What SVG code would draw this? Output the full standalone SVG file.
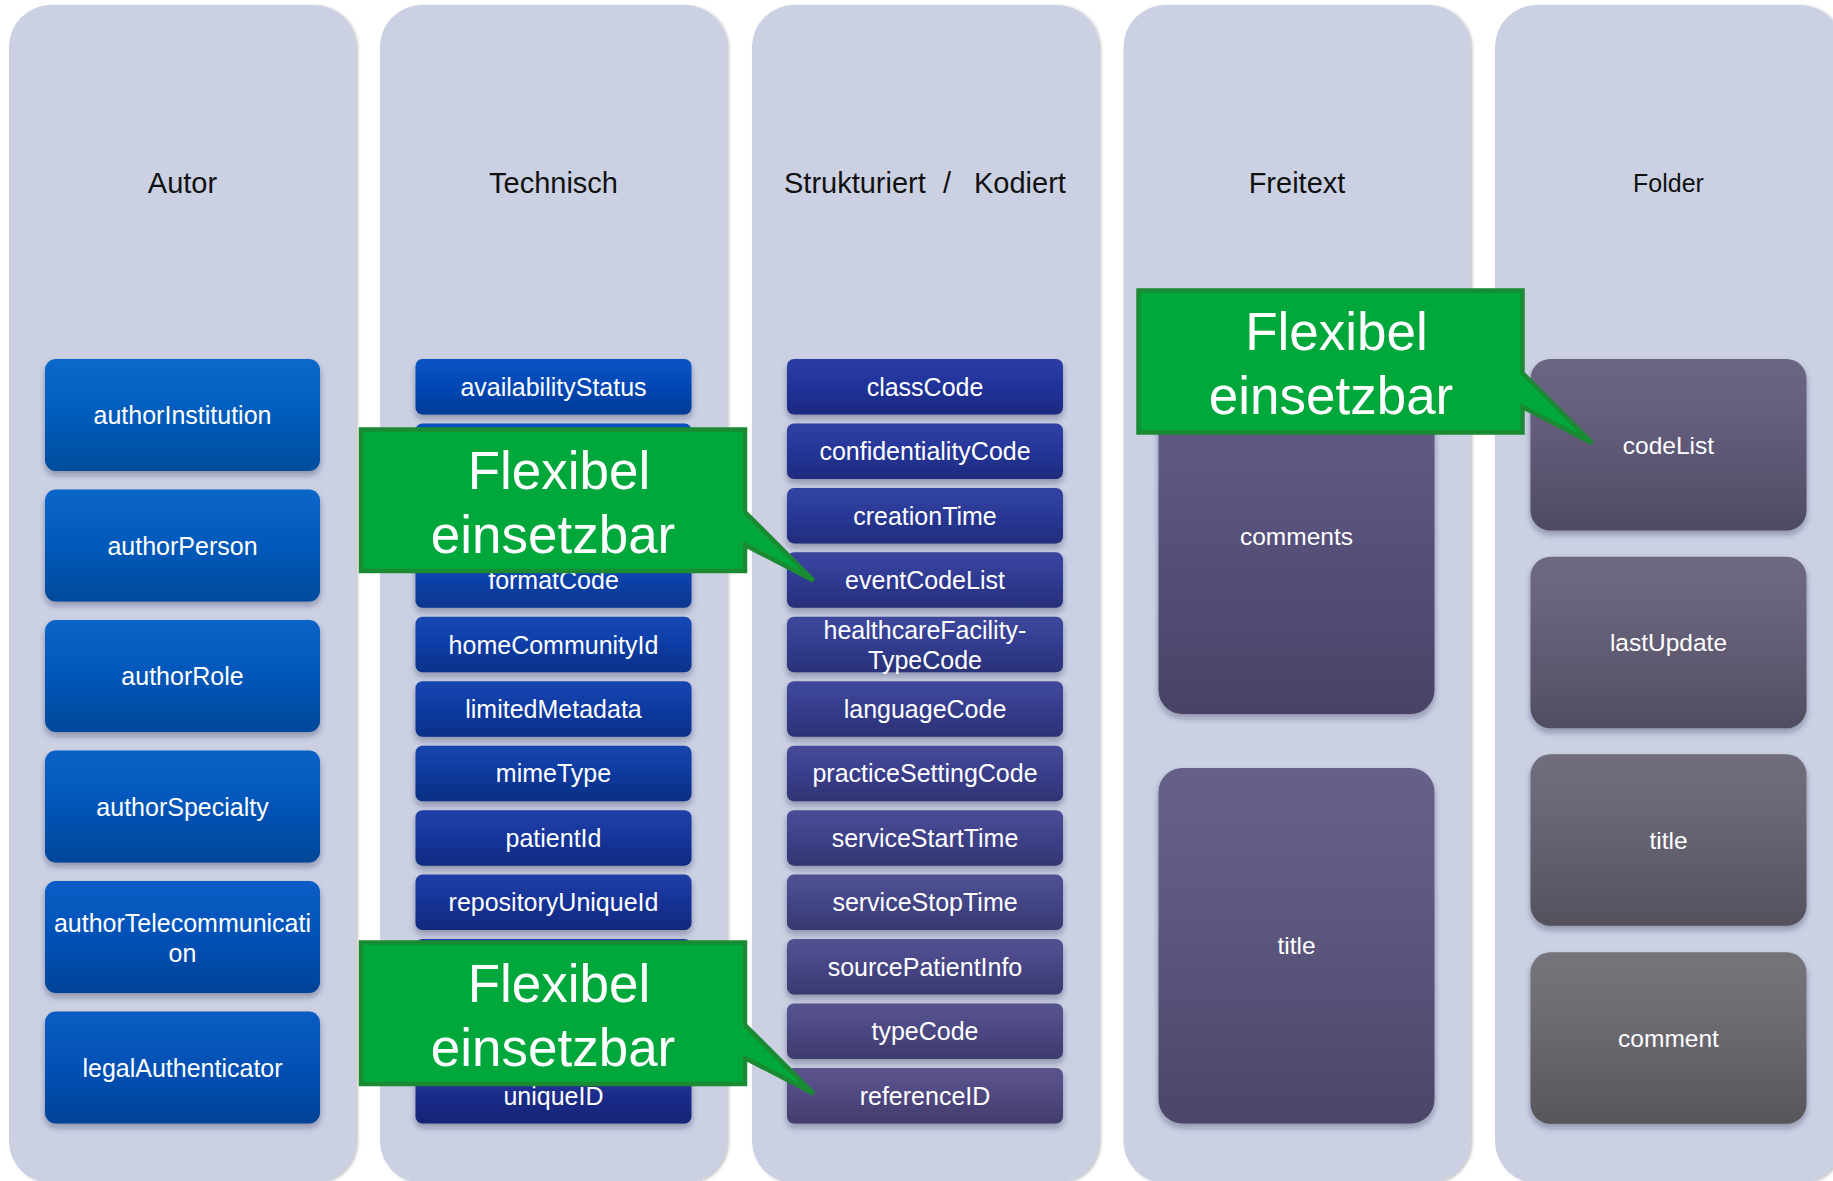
<svg xmlns="http://www.w3.org/2000/svg" width="1833" height="1181" viewBox="0 0 1833 1181">
<defs>
<style>
.col{fill:#cbd1e3;filter:url(#colsh)}
.ttl{font-family:"Liberation Sans",Arial,sans-serif;font-size:29px;fill:#111}
.lbl{font-family:"Liberation Sans",Arial,sans-serif;font-size:25px;fill:#fff;text-anchor:middle}
.lbl2{font-family:"Liberation Sans",Arial,sans-serif;font-size:24.5px;fill:#fff;text-anchor:middle}
.box{filter:url(#boxsh)}
.ov{fill:url(#shade)}
.call{fill:#00a83b;stroke:#1a8a33;stroke-width:4.5;stroke-linejoin:miter}
.ctxt{font-family:"Liberation Sans",Arial,sans-serif;font-size:53px;fill:#fff;text-anchor:middle}
</style>
<linearGradient id="shade" x1="0" y1="0" x2="0" y2="1">
<stop offset="0" stop-color="#fff" stop-opacity="0.04"/>
<stop offset="0.5" stop-color="#000" stop-opacity="0.06"/>
<stop offset="1" stop-color="#000" stop-opacity="0.22"/>
</linearGradient>
<filter id="boxsh" x="-10%" y="-10%" width="120%" height="130%">
<feDropShadow dx="0" dy="4" stdDeviation="3" flood-color="#1a1f40" flood-opacity="0.35"/>
</filter>
<filter id="colsh" x="-5%" y="-2%" width="110%" height="104%">
<feDropShadow dx="2" dy="1" stdDeviation="1.5" flood-color="#555" flood-opacity="0.35"/>
</filter>
</defs>
<rect width="1833" height="1181" fill="#fff"/>

<g id="columns">
<g id="col-autor"><rect class="col" x="9" y="5" width="347" height="1178" rx="42"/><text class="ttl" x="182.5" y="193" text-anchor="middle">Autor</text></g>
<g id="col-technisch"><rect class="col" x="380" y="5" width="347" height="1178" rx="42"/><text class="ttl" x="553.5" y="193" text-anchor="middle">Technisch</text></g>
<g id="col-strukturiert"><rect class="col" x="752" y="5" width="347" height="1178" rx="42"/><text class="ttl" y="193"><tspan x="784">Strukturiert</tspan><tspan x="943">/</tspan><tspan x="974">Kodiert</tspan></text></g>
<g id="col-freitext"><rect class="col" x="1123.5" y="5" width="347" height="1178" rx="42"/><text class="ttl" x="1297" y="193" text-anchor="middle">Freitext</text></g>
<g id="col-folder"><rect class="col" x="1495" y="5" width="347" height="1178" rx="42"/><text class="ttl" x="1668.5" y="192" text-anchor="middle" style="font-size:25px">Folder</text></g>
</g>

<g id="autor">
<g id="authorInstitution"><rect class="box" x="45" y="359" width="275" height="112" rx="11" fill="#0062c8"/><rect class="ov" x="45" y="359" width="275" height="112" rx="11"/><text class="lbl" x="182.5" y="424">authorInstitution</text></g>
<g id="authorPerson"><rect class="box" x="45" y="489.5" width="275" height="112" rx="11" fill="#005fc6"/><rect class="ov" x="45" y="489.5" width="275" height="112" rx="11"/><text class="lbl" x="182.5" y="554.5">authorPerson</text></g>
<g id="authorRole"><rect class="box" x="45" y="620" width="275" height="112" rx="11" fill="#005cc4"/><rect class="ov" x="45" y="620" width="275" height="112" rx="11"/><text class="lbl" x="182.5" y="685">authorRole</text></g>
<g id="authorSpecialty"><rect class="box" x="45" y="750.5" width="275" height="112" rx="11" fill="#005ac3"/><rect class="ov" x="45" y="750.5" width="275" height="112" rx="11"/><text class="lbl" x="182.5" y="815.5">authorSpecialty</text></g>
<g id="authorTelecommunication"><rect class="box" x="45" y="881" width="275" height="112" rx="11" fill="#0057c2"/><rect class="ov" x="45" y="881" width="275" height="112" rx="11"/><text class="lbl" x="182.5" y="932">authorTelecommunicati</text><text class="lbl" x="182.5" y="961.5">on</text></g>
<g id="legalAuthenticator"><rect class="box" x="45" y="1011.5" width="275" height="112" rx="11" fill="#0054c0"/><rect class="ov" x="45" y="1011.5" width="275" height="112" rx="11"/><text class="lbl" x="182.5" y="1076.5">legalAuthenticator</text></g>
</g>

<g id="technisch">
<g id="availabilityStatus"><rect class="box" x="415.5" y="359" width="276" height="55.5" rx="7" fill="#004cc0"/><rect class="ov" x="415.5" y="359" width="276" height="55.5" rx="7"/><text class="lbl" x="553.5" y="395.7">availabilityStatus</text></g>
<g id="tech-2"><rect class="box" x="415.5" y="423.45" width="276" height="55.5" rx="7" fill="#0349bc"/><rect class="ov" x="415.5" y="423.45" width="276" height="55.5" rx="7"/></g>
<g id="tech-3"><rect class="box" x="415.5" y="487.9" width="276" height="55.5" rx="7" fill="#0547b8"/><rect class="ov" x="415.5" y="487.9" width="276" height="55.5" rx="7"/></g>
<g id="formatCode"><rect class="box" x="415.5" y="552.35" width="276" height="55.5" rx="7" fill="#0844b4"/><rect class="ov" x="415.5" y="552.35" width="276" height="55.5" rx="7"/><text class="lbl" x="553.5" y="589.05">formatCode</text></g>
<g id="homeCommunityId"><rect class="box" x="415.5" y="616.8" width="276" height="55.5" rx="7" fill="#0b41b0"/><rect class="ov" x="415.5" y="616.8" width="276" height="55.5" rx="7"/><text class="lbl" x="553.5" y="653.5">homeCommunityId</text></g>
<g id="limitedMetadata"><rect class="box" x="415.5" y="681.25" width="276" height="55.5" rx="7" fill="#0e3eac"/><rect class="ov" x="415.5" y="681.25" width="276" height="55.5" rx="7"/><text class="lbl" x="553.5" y="717.95">limitedMetadata</text></g>
<g id="mimeType"><rect class="box" x="415.5" y="745.7" width="276" height="55.5" rx="7" fill="#103ca8"/><rect class="ov" x="415.5" y="745.7" width="276" height="55.5" rx="7"/><text class="lbl" x="553.5" y="782.4">mimeType</text></g>
<g id="patientId"><rect class="box" x="415.5" y="810.15" width="276" height="55.5" rx="7" fill="#1339a4"/><rect class="ov" x="415.5" y="810.15" width="276" height="55.5" rx="7"/><text class="lbl" x="553.5" y="846.85">patientId</text></g>
<g id="repositoryUniqueId"><rect class="box" x="415.5" y="874.6" width="276" height="55.5" rx="7" fill="#1636a0"/><rect class="ov" x="415.5" y="874.6" width="276" height="55.5" rx="7"/><text class="lbl" x="553.5" y="911.3">repositoryUniqueId</text></g>
<g id="tech-10"><rect class="box" x="415.5" y="939.05" width="276" height="55.5" rx="7" fill="#19339c"/><rect class="ov" x="415.5" y="939.05" width="276" height="55.5" rx="7"/></g>
<g id="tech-11"><rect class="box" x="415.5" y="1003.5" width="276" height="55.5" rx="7" fill="#1b3198"/><rect class="ov" x="415.5" y="1003.5" width="276" height="55.5" rx="7"/></g>
<g id="uniqueID"><rect class="box" x="415.5" y="1067.95" width="276" height="55.5" rx="7" fill="#1e2e94"/><rect class="ov" x="415.5" y="1067.95" width="276" height="55.5" rx="7"/><text class="lbl" x="553.5" y="1104.65">uniqueID</text></g>
</g>

<g id="strukturiert">
<g id="classCode"><rect class="box" x="787" y="359" width="276" height="55.5" rx="7" fill="#2236a2"/><rect class="ov" x="787" y="359" width="276" height="55.5" rx="7"/><text class="lbl" x="925" y="395.7">classCode</text></g>
<g id="confidentialityCode"><rect class="box" x="787" y="423.45" width="276" height="55.5" rx="7" fill="#2738a0"/><rect class="ov" x="787" y="423.45" width="276" height="55.5" rx="7"/><text class="lbl" x="925" y="460.15">confidentialityCode</text></g>
<g id="creationTime"><rect class="box" x="787" y="487.9" width="276" height="55.5" rx="7" fill="#2b3a9d"/><rect class="ov" x="787" y="487.9" width="276" height="55.5" rx="7"/><text class="lbl" x="925" y="524.6">creationTime</text></g>
<g id="eventCodeList"><rect class="box" x="787" y="552.35" width="276" height="55.5" rx="7" fill="#303d9b"/><rect class="ov" x="787" y="552.35" width="276" height="55.5" rx="7"/><text class="lbl" x="925" y="589.05">eventCodeList</text></g>
<g id="healthcareFacilityTypeCode"><rect class="box" x="787" y="616.8" width="276" height="55.5" rx="7" fill="#343f98"/><rect class="ov" x="787" y="616.8" width="276" height="55.5" rx="7"/><text class="lbl" x="925" y="639.3">healthcareFacility-</text><text class="lbl" x="925" y="668.6">TypeCode</text></g>
<g id="languageCode"><rect class="box" x="787" y="681.25" width="276" height="55.5" rx="7" fill="#394195"/><rect class="ov" x="787" y="681.25" width="276" height="55.5" rx="7"/><text class="lbl" x="925" y="717.95">languageCode</text></g>
<g id="practiceSettingCode"><rect class="box" x="787" y="745.7" width="276" height="55.5" rx="7" fill="#3d4394"/><rect class="ov" x="787" y="745.7" width="276" height="55.5" rx="7"/><text class="lbl" x="925" y="782.4">practiceSettingCode</text></g>
<g id="serviceStartTime"><rect class="box" x="787" y="810.15" width="276" height="55.5" rx="7" fill="#424591"/><rect class="ov" x="787" y="810.15" width="276" height="55.5" rx="7"/><text class="lbl" x="925" y="846.85">serviceStartTime</text></g>
<g id="serviceStopTime"><rect class="box" x="787" y="874.6" width="276" height="55.5" rx="7" fill="#46488f"/><rect class="ov" x="787" y="874.6" width="276" height="55.5" rx="7"/><text class="lbl" x="925" y="911.3">serviceStopTime</text></g>
<g id="sourcePatientInfo"><rect class="box" x="787" y="939.05" width="276" height="55.5" rx="7" fill="#4b4a8d"/><rect class="ov" x="787" y="939.05" width="276" height="55.5" rx="7"/><text class="lbl" x="925" y="975.75">sourcePatientInfo</text></g>
<g id="typeCode"><rect class="box" x="787" y="1003.5" width="276" height="55.5" rx="7" fill="#4f4c8a"/><rect class="ov" x="787" y="1003.5" width="276" height="55.5" rx="7"/><text class="lbl" x="925" y="1040.2">typeCode</text></g>
<g id="referenceID"><rect class="box" x="787" y="1067.95" width="276" height="55.5" rx="7" fill="#544e88"/><rect class="ov" x="787" y="1067.95" width="276" height="55.5" rx="7"/><text class="lbl" x="925" y="1104.65">referenceID</text></g>
</g>

<g id="freitext">
<g id="comments"><rect class="box" x="1158.5" y="359" width="276" height="355" rx="24" fill="#5c5682"/><rect class="ov" x="1158.5" y="359" width="276" height="355" rx="24"/><text class="lbl2" x="1296.5" y="545">comments</text></g>
<g id="freitext-title"><rect class="box" x="1158.5" y="768" width="276" height="355.5" rx="24" fill="#605a84"/><rect class="ov" x="1158.5" y="768" width="276" height="355.5" rx="24"/><text class="lbl2" x="1296.5" y="954">title</text></g>
</g>

<g id="folder">
<g id="codeList"><rect class="box" x="1530.5" y="359" width="276" height="171.5" rx="20" fill="#655f7f"/><rect class="ov" x="1530.5" y="359" width="276" height="171.5" rx="20"/><text class="lbl2" x="1668.5" y="453.5">codeList</text></g>
<g id="lastUpdate"><rect class="box" x="1530.5" y="556.7" width="276" height="171.5" rx="20" fill="#68637b"/><rect class="ov" x="1530.5" y="556.7" width="276" height="171.5" rx="20"/><text class="lbl2" x="1668.5" y="651">lastUpdate</text></g>
<g id="folder-title"><rect class="box" x="1530.5" y="754.3" width="276" height="171.5" rx="20" fill="#6b6877"/><rect class="ov" x="1530.5" y="754.3" width="276" height="171.5" rx="20"/><text class="lbl2" x="1668.5" y="848.5">title</text></g>
<g id="comment"><rect class="box" x="1530.5" y="952.3" width="276" height="171.5" rx="20" fill="#6f6e74"/><rect class="ov" x="1530.5" y="952.3" width="276" height="171.5" rx="20"/><text class="lbl2" x="1668.5" y="1047">comment</text></g>
</g>

<g id="connectors"></g>

<g id="callout-1"><path class="call" d="M361,429.5 H745 V512 L813.5,580.5 L745,545 V571 H361 Z"/><text class="ctxt" x="559" y="489">Flexibel</text><text class="ctxt" x="553" y="553">einsetzbar</text></g>
<g id="callout-2"><path class="call" d="M361,942.5 H745 V1025 L813.5,1093.5 L745,1058 V1084 H361 Z"/><text class="ctxt" x="559" y="1002">Flexibel</text><text class="ctxt" x="553" y="1066">einsetzbar</text></g>
<g id="callout-3"><path class="call" d="M1138.5,290.5 H1522.5 V373 L1592,443 L1522.5,407 V432.5 H1138.5 Z"/><text class="ctxt" x="1336.5" y="350">Flexibel</text><text class="ctxt" x="1331" y="414">einsetzbar</text></g>
</svg>
